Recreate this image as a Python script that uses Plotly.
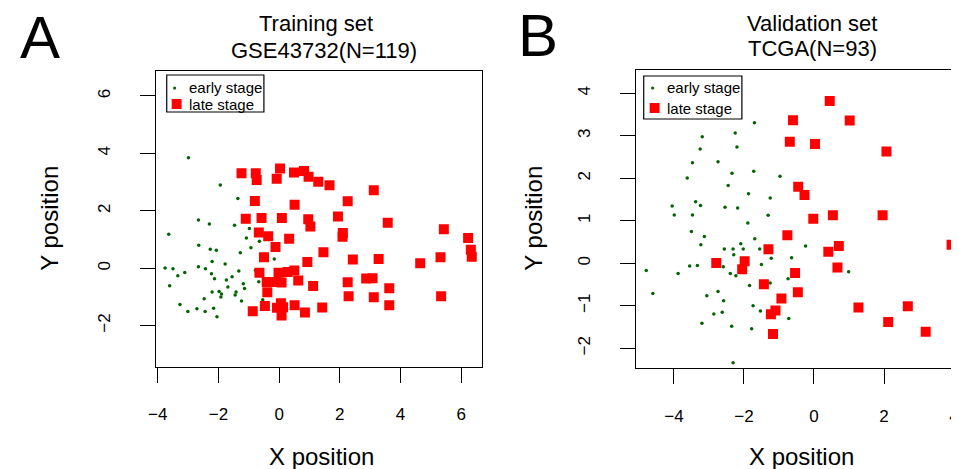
import plotly.graph_objects as go

# ---------------- data ----------------
train_early_x = [-2.99, -1.94, -1.36, -2.66, -2.30, -1.47, -0.98, -3.64, -1.08, -0.65, -2.65, -2.27, -2.07, -0.93, -1.28,
                 -0.16, -2.21, -1.78, -3.76, -3.50, -2.66, -2.43, -3.11, -3.34, -2.23, -1.33, -0.78, -2.13, -1.74, -1.55,
                 -0.67, -3.61, -1.18, -1.69, -1.14, -2.21, -1.98, -1.90, -1.92, -1.42, -1.45, -2.47, -1.24, -0.54, -3.27,
                 -2.71, -2.16, -3.01, -2.44, -2.05]
train_early_y = [3.85, 2.90, 2.43, 1.68, 1.54, 1.50, 1.38, 1.18, 1.05, 0.94, 0.80, 0.66, 0.63, 0.71, 0.54,
                 0.32, 0.23, 0.15, 0.01, -0.02, 0.05, -0.02, -0.15, -0.26, -0.19, -0.10, -0.07, -0.37, -0.41, -0.30,
                 -0.47, -0.61, -0.54, -0.65, -0.71, -0.83, -0.81, -0.90, -1.00, -0.83, -0.93, -1.06, -1.14, -1.10, -1.26,
                 -1.41, -1.39, -1.51, -1.51, -1.69]

train_late_x = [-1.24, -0.77, -0.74, 0.03, -0.08, 0.49, 0.82, 0.97, 1.29, 1.66, 3.12, 2.26, -0.80, 0.51, -1.10,
                -0.58, 0.09, 0.96, 1.03, 1.94, 3.58, 2.10, 2.09, 5.43, 6.23, 6.32, 6.35, -0.67, -0.36, 0.33,
                -0.12, -0.50, 0.93, 1.46, 2.43, 3.28, 4.65, 5.32, -0.65, -0.02, 0.28, 0.50, -0.41, -0.10, 0.08,
                0.63, 1.12, 2.26, 2.87, 3.08, 3.63, -0.39, 2.29, 3.12, 5.34, 3.63, -0.47, 0.06, -0.07, 0.13,
                0.51, 0.08, -0.87, 0.85, 1.42]
train_late_y = [3.31, 3.31, 3.07, 3.47, 3.12, 3.33, 3.39, 3.19, 3.01, 2.89, 2.72, 2.33, 2.34, 2.21, 1.72,
                1.75, 1.75, 1.71, 1.45, 1.80, 1.58, 1.23, 1.10, 1.36, 1.05, 0.64, 0.40, 1.24, 1.11, 1.03,
                0.74, 0.38, 0.22, 0.56, 0.30, 0.32, 0.17, 0.38, -0.16, -0.16, -0.13, -0.08, -0.48, -0.48, -0.50,
                -0.43, -0.62, -0.49, -0.36, -0.35, -0.70, -0.84, -0.98, -1.01, -0.98, -1.29, -1.32, -1.22, -1.38, -1.36,
                -1.29, -1.65, -1.50, -1.54, -1.37]

valid_early_x = [-1.70, -3.19, -2.25, -2.20, -3.25, -3.47, -2.74, -2.34, -1.72, -3.62, -0.97, -2.45, -1.87, -1.25, -3.38,
                 -3.24, -4.05, -2.54, -2.18, -3.99, -3.47, -1.31, -1.89, -3.50, -3.13, -1.69, -3.23, -2.09,
                 -2.56, -2.31, -2.02, -1.55, -2.29, -1.22, -0.64, -3.55, -3.33, -2.59, -1.50, -4.79, -3.88, -2.39,
                 -2.23, -0.74, -1.25, -1.84, -4.60, -2.74, -3.06, -2.58, -1.74, -1.53, -2.86, -2.62, -0.72, -3.20,
                 -2.35, -1.78, -2.31, -0.24, 0.99]
valid_early_y = [3.31, 2.98, 3.07, 2.74, 2.69, 2.37, 2.39, 2.12, 2.17, 2.01, 2.05, 1.83, 1.64, 1.54, 1.45,
                 1.36, 1.35, 1.32, 1.30, 1.14, 1.14, 1.13, 0.95, 0.75, 0.63, 0.58, 0.44, 0.46,
                 0.34, 0.34, 0.34, 0.34, 0.20, 0.12, 0.13, -0.06, -0.05, -0.08, -0.03, -0.17, -0.24, -0.24,
                 -0.29, -0.36, -0.46, -0.52, -0.71, -0.66, -0.76, -0.88, -1.00, -1.12, -1.19, -1.15, -1.30, -1.41,
                 -1.48, -1.54, -2.34, 0.41, -0.20]

valid_late_x = [-0.60, -0.69, -0.45, -0.76, -1.30, 0.45, 1.02, 0.03, 2.07, -0.27, 0.54, 1.96, -0.02, 0.71, 3.93,
                0.41, 0.67, -0.54, -0.46, 1.27, 2.68, 2.12, 3.19, -2.79, -1.98, -2.05, -1.43, -0.93, -1.10, -1.23,
                -1.17]
valid_late_y = [3.37, 2.86, 1.80, 0.66, 0.33, 3.82, 3.36, 2.81, 2.63, 1.61, 1.13, 1.13, 1.05, 0.41, 0.44,
                0.27, -0.10, -0.23, -0.68, -1.04, -1.01, -1.38, -1.61, 0.01, 0.05, -0.14, -0.49, -0.83, -1.11, -1.20,
                -1.66]

train_xticks = [-4, -2, 0, 2, 4, 6]
train_yticks = [-2, 0, 2, 4, 6]
valid_xticks = [-4, -2, 0, 2, 4]
valid_yticks = [-2, -1, 0, 1, 2, 3, 4]

group_names = ["early stage", "late stage"]

# ---------------- styling ----------------
FONT = "Liberation Sans, Arial, Helvetica, sans-serif"
GREEN = "#006400"
RED = "#FF0000"
W, H = 959, 469
OFF = 8  # page body margin offset


def fx(p):
    return (p - OFF) / W


def fy(p):
    return (H - (p - OFF)) / H


fig = go.Figure()

fig.add_trace(go.Scatter(x=train_early_x, y=train_early_y, mode="markers", name=group_names[0],
                         marker=dict(symbol="circle", size=3.5, color=GREEN), showlegend=False,
                         xaxis="x", yaxis="y"))
fig.add_trace(go.Scatter(x=train_late_x, y=train_late_y, mode="markers", name=group_names[1],
                         marker=dict(symbol="square", size=10, color=RED), showlegend=False,
                         xaxis="x", yaxis="y"))
fig.add_trace(go.Scatter(x=valid_early_x, y=valid_early_y, mode="markers", name=group_names[0],
                         marker=dict(symbol="circle", size=3.5, color=GREEN), showlegend=False,
                         xaxis="x2", yaxis="y2"))
fig.add_trace(go.Scatter(x=valid_late_x, y=valid_late_y, mode="markers", name=group_names[1],
                         marker=dict(symbol="square", size=10, color=RED), showlegend=False,
                         xaxis="x2", yaxis="y2"))

axis_common = dict(showgrid=False, zeroline=False, showline=True, linecolor="black", linewidth=1.2,
                   ticks="outside", ticklen=15, tickwidth=1.2, tickcolor="black",
                   tickfont=dict(family=FONT, size=17, color="black"))

fig.update_layout(
    width=W, height=H,
    margin=dict(l=0, r=0, t=0, b=0),
    paper_bgcolor="white", plot_bgcolor="white",
    font=dict(family=FONT, color="black"),
    showlegend=False,
    xaxis=dict(domain=[fx(149), fx(478)], range=[-4.065, 6.69], tickvals=train_xticks,
               mirror=True, anchor="y", ticklabelstandoff=17, **axis_common),
    yaxis=dict(domain=[fy(366.7), fy(70.7)], range=[-3.43, 6.88], tickvals=train_yticks,
               mirror=True, anchor="x", tickangle=-90, ticklabelstandoff=23, **axis_common),
    xaxis2=dict(domain=[fx(633.3), fx(967)], range=[-5.08, 4.37], tickvals=valid_xticks,
                mirror=True, anchor="y2", ticklabelstandoff=17, **axis_common),
    yaxis2=dict(domain=[fy(368.3), fy(70)], range=[-2.47, 4.55], tickvals=valid_yticks,
                mirror=False, anchor="x2", tickangle=-90, ticklabelstandoff=23, **axis_common),
)

annotations = [
    dict(text="A", x=fx(32), y=fy(37), size=60),
    dict(text="B", x=fx(534), y=fy(36), size=60),
    dict(text="Training set", x=fx(311), y=fy(24), size=22),
    dict(text="GSE43732(N=119)", x=fx(319), y=fy(50), size=22),
    dict(text="Validation set", x=fx(811), y=fy(23), size=22),
    dict(text="TCGA(N=93)", x=fx(811), y=fy(48), size=22),
    dict(text="X position", x=fx(316), y=fy(456), size=24),
    dict(text="X position", x=fx(800), y=fy(456), size=24),
    dict(text="Y position", x=fx(42), y=fy(218), size=24, textangle=-90),
    dict(text="Y position", x=fx(530), y=fy(218), size=24, textangle=-90),
]
ann_list = []
for a in annotations:
    size = a.pop("size")
    a.update(xref="paper", yref="paper", showarrow=False, xanchor="center", yanchor="middle",
             font=dict(family=FONT, color="black", size=size))
    ann_list.append(a)

# ---- legends (box, symbols and labels) ----
legend_specs = [
    dict(box=(160, 75, 258, 112), dot_x=168, sq_x=170, text_x=180, rows=(88, 104)),
    dict(box=(641, 76, 740, 119), dot_x=650, sq_x=652, text_x=662, rows=(88, 108)),
]
shapes = []
for spec in legend_specs:
    l, t, r, b = spec["box"]
    shapes.append(dict(type="rect", xref="paper", yref="paper", x0=fx(l), x1=fx(r), y0=fy(b), y1=fy(t),
                       line=dict(color="black", width=1.2), fillcolor="white", layer="above"))
    dy0 = spec["rows"][0]
    dx = spec["dot_x"]
    shapes.append(dict(type="circle", xref="paper", yref="paper",
                       x0=fx(dx - 1.6), x1=fx(dx + 1.6), y0=fy(dy0 + 1.6), y1=fy(dy0 - 1.6),
                       line=dict(width=0), fillcolor=GREEN, layer="above"))
    dy1 = spec["rows"][1]
    sx = spec["sq_x"]
    shapes.append(dict(type="rect", xref="paper", yref="paper",
                       x0=fx(sx - 5), x1=fx(sx + 5), y0=fy(dy1 + 5), y1=fy(dy1 - 5),
                       line=dict(width=0), fillcolor=RED, layer="above"))
    for name, ry in zip(group_names, spec["rows"]):
        ann_list.append(dict(text=name, x=fx(spec["text_x"]), y=fy(ry), xref="paper", yref="paper",
                             showarrow=False, xanchor="left", yanchor="middle",
                             font=dict(family=FONT, color="black", size=15)))

fig.update_layout(annotations=ann_list, shapes=shapes)

fig.write_html("out.html")
